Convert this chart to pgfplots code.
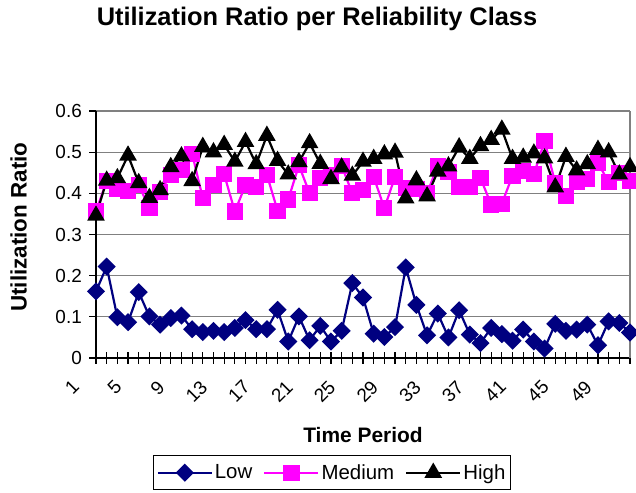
\documentclass[border=0pt]{standalone}
\usepackage{pgfplots}
\usepackage{pgfplotstable}
\pgfplotsset{compat=1.18}
\usepackage{fontspec}
\setmainfont{Liberation Sans}
\definecolor{navy}{RGB}{0,0,128}
\definecolor{mag}{RGB}{255,0,255}
\definecolor{gridgray}{RGB}{128,128,128}
\pgfplotstableread{
x low med high
1 0.162 0.356 0.346
2 0.222 0.430 0.431
3 0.099 0.410 0.437
4 0.087 0.405 0.492
5 0.160 0.420 0.425
6 0.101 0.364 0.389
7 0.081 0.404 0.408
8 0.097 0.445 0.464
9 0.103 0.457 0.490
10 0.070 0.496 0.430
11 0.063 0.388 0.513
12 0.066 0.420 0.500
13 0.063 0.446 0.518
14 0.073 0.356 0.477
15 0.092 0.420 0.525
16 0.070 0.415 0.471
17 0.070 0.445 0.540
18 0.117 0.358 0.479
19 0.040 0.385 0.446
20 0.101 0.468 0.476
21 0.043 0.400 0.522
22 0.078 0.437 0.472
23 0.040 0.445 0.435
24 0.066 0.467 0.463
25 0.182 0.400 0.443
26 0.147 0.408 0.477
27 0.059 0.440 0.484
28 0.051 0.364 0.495
29 0.075 0.440 0.499
30 0.220 0.412 0.388
31 0.129 0.410 0.432
32 0.055 0.400 0.393
33 0.108 0.467 0.453
34 0.050 0.452 0.466
35 0.116 0.416 0.512
36 0.057 0.416 0.484
37 0.036 0.437 0.515
38 0.073 0.373 0.530
39 0.058 0.375 0.555
40 0.042 0.443 0.484
41 0.069 0.455 0.487
42 0.040 0.446 0.497
43 0.023 0.527 0.485
44 0.083 0.425 0.415
45 0.066 0.393 0.489
46 0.069 0.427 0.456
47 0.081 0.435 0.471
48 0.031 0.474 0.506
49 0.089 0.427 0.500
50 0.085 0.450 0.446
51 0.062 0.430 0.464
}\datatable
\begin{document}
\begin{tikzpicture}[x=1bp,y=1bp]
\useasboundingbox (0,0) rectangle (636,493);
\node[font=\fontsize{25.5}{28}\selectfont\bfseries] at (317,474) {Utilization Ratio per Reliability Class};
\begin{axis}[
  at={(96bp,135bp)}, anchor=south west,
  scale only axis, width=534bp, height=247bp,
  xmin=1, xmax=51, ymin=0, ymax=0.6,
  axis x line*=bottom, axis y line*=left,
  axis line style={black, line width=1.5bp},
  xtick={1,5,...,49}, minor xtick={1,...,51},
  ytick={0,0.1,...,0.6},
  xtick align=center, ytick align=outside,
  major tick length=12bp, minor tick length=12bp,
  every tick/.style={black, line width=1.1bp},
  y tick style={/pgfplots/major tick length=7bp},
  ymajorgrids, grid style={gridgray, line width=1.3bp},
  yticklabel style={/pgf/number format/fixed, font=\fontsize{19}{22}\selectfont, inner sep=2bp},
  xticklabel style={xshift=-25bp, yshift=-15bp, rotate=45, anchor=north east, font=\fontsize{19}{22}\selectfont, inner sep=0bp},
  /pgf/number format/assume math mode=true,
  xlabel={\textbf{Time Period}},
  xlabel style={font=\fontsize{21}{24}\selectfont, at={(axis description cs:0.5,-0.31)}, anchor=center},
  ylabel={\textbf{Utilization Ratio}},
  ylabel style={font=\fontsize{22.5}{24}\selectfont, at={(axis description cs:-0.145,0.53)}, anchor=center, rotate=0},
  legend columns=3,
  legend style={at={(axis description cs:0.442,-0.393)}, anchor=north, draw=black, line width=1bp,
    font=\fontsize{20.5}{24}\selectfont, inner xsep=3bp, inner ysep=7bp,
    /tikz/every even column/.append style={column sep=9bp}},
  legend image code/.code={\draw[mark repeat=2,mark phase=2,#1] plot coordinates {(0bp,0bp) (27bp,0bp) (54bp,0bp)};},
  clip=false,
]
\addplot[navy, line width=2.2bp, mark=square*, mark size=5.3bp, mark options={rotate=45, solid, fill=navy}] table[x=x,y=low] {\datatable};
\addlegendentry{Low}
\addplot[mag, line width=2.2bp, mark=square*, mark size=7bp, mark options={solid, fill=mag}] table[x=x,y=med] {\datatable};
\addlegendentry{Medium}
\addplot[black, line width=2.2bp, mark=triangle*, mark size=8bp, mark options={solid, fill=black}] table[x=x,y=high] {\datatable};
\addlegendentry{High}
\draw[gridgray, line width=1.5bp] (axis cs:51,0) -- (axis cs:51,0.6);
\end{axis}
\end{tikzpicture}
\end{document}
